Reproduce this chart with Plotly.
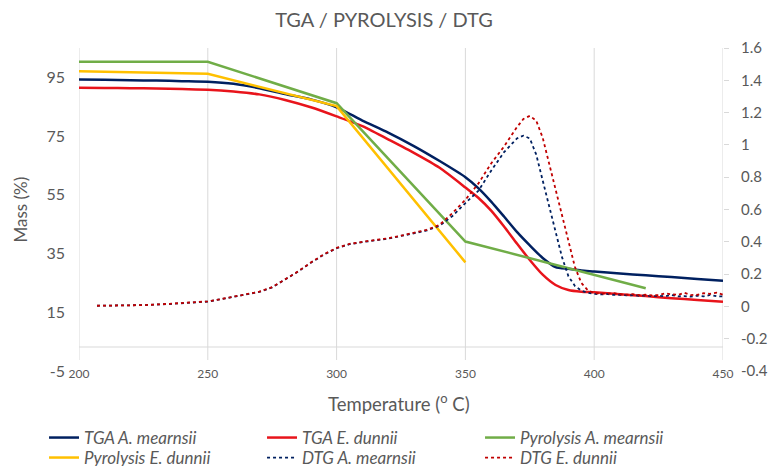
import plotly.graph_objects as go

# ---------------- data ----------------
temp_tga = [200, 210, 220, 230, 240, 250, 260, 270, 280, 290, 300, 310, 320, 330, 340,
            350, 355, 360, 365, 370, 375, 380, 385, 390, 395, 400, 410, 420, 430, 440, 450]
tga_mearnsii = [94.3, 94.2, 94.0, 93.9, 93.7, 93.5, 92.8, 91.3, 89.3, 87.5, 84.8, 80.3, 76.2, 71.6, 66.5,
                61.0, 57.3, 52.7, 47.6, 42.4, 37.8, 33.5, 30.4, 29.8, 29.2, 28.9, 28.2, 27.6, 27.0, 26.3, 25.7]
tga_dunnii = [91.5, 91.4, 91.3, 91.2, 91.0, 90.8, 90.2, 89.2, 87.3, 84.8, 81.7, 78.4, 73.9, 69.3, 64.2,
              57.5, 54.0, 49.6, 44.2, 38.4, 32.8, 27.8, 24.3, 22.6, 22.0, 21.8, 21.1, 20.5, 19.8, 19.2, 18.6]

temp_pyro_a = [200, 250, 300, 350, 420]
pyro_mearnsii = [100.3, 100.3, 86.2, 39.1, 23.2]
temp_pyro_e = [200, 250, 300, 350]
pyro_dunnii = [97.1, 96.2, 85.2, 32.0]

temp_dtg = [207, 215, 225, 235, 245, 250, 255, 260, 265, 270, 275, 280, 285, 290, 295, 300,
            305, 310, 315, 320, 325, 330, 335, 340, 345, 350, 355, 360, 365, 370, 372.5, 375,
            377.5, 380, 382.5, 385, 387.5, 390, 392.5, 395, 397.5, 400, 402.5, 405, 407.5, 410,
            412.5, 415, 417.5, 420, 422.5, 425, 427.5, 430, 432.5, 435, 437.5, 440, 442.5, 445,
            447.5, 450]
dtg_mearnsii = [0.004, 0.005, 0.008, 0.015, 0.024, 0.030, 0.044, 0.058, 0.072, 0.090, 0.118, 0.165,
                0.215, 0.270, 0.320, 0.360, 0.385, 0.398, 0.408, 0.420, 0.436, 0.452, 0.470, 0.500,
                0.560, 0.640, 0.715, 0.840, 0.955, 1.040, 1.057, 1.040, 0.940, 0.780, 0.620, 0.460,
                0.305, 0.186, 0.127, 0.097, 0.084, 0.078, 0.074, 0.077, 0.071, 0.072, 0.068, 0.070,
                0.066, 0.067, 0.063, 0.066, 0.062, 0.071, 0.062, 0.064, 0.060, 0.067, 0.062, 0.071,
                0.063, 0.062]
dtg_dunnii = [0.004, 0.006, 0.008, 0.016, 0.025, 0.031, 0.045, 0.059, 0.073, 0.091, 0.119, 0.166,
              0.216, 0.272, 0.322, 0.362, 0.387, 0.400, 0.410, 0.422, 0.438, 0.455, 0.474, 0.505,
              0.578, 0.660, 0.760, 0.885, 0.990, 1.110, 1.160, 1.180, 1.150, 1.045, 0.885, 0.715,
              0.550, 0.390, 0.245, 0.145, 0.100, 0.082, 0.080, 0.078, 0.083, 0.075, 0.072, 0.076,
              0.070, 0.072, 0.068, 0.070, 0.080, 0.074, 0.071, 0.084, 0.070, 0.072, 0.082, 0.078,
              0.085, 0.072]

x_ticks = [200, 250, 300, 350, 400, 450]
left_ticks = [-5, 15, 35, 55, 75, 95]
left_labels = ["-5", "15", "35", "55", "75", "95"]
right_ticks = [-0.4, -0.2, 0, 0.2, 0.4, 0.6, 0.8, 1, 1.2, 1.4, 1.6]
right_labels = ["-0.4", "-0.2", "0", "0.2", "0.4", "0.6", "0.8", "1", "1.2", "1.4", "1.6"]

# ---------------- style ----------------
NAVY = "#002060"
RED = "#E8141B"
DRED = "#C00000"
GREEN = "#70AD47"
YELLOW = "#FFC000"
TXT = "#595959"
GRID = "#D9D9D9"
FONT = "Lato"

fig = go.Figure()
fig.add_trace(go.Scatter(x=temp_tga, y=tga_mearnsii, name="TGA A. mearnsii", mode="lines",
                         legend="legend",
                         line=dict(color=NAVY, width=2.5, shape="spline", smoothing=0.6)))
fig.add_trace(go.Scatter(x=temp_tga, y=tga_dunnii, name="TGA E. dunnii", mode="lines",
                         legend="legend",
                         line=dict(color=RED, width=2.5, shape="spline", smoothing=0.6)))
fig.add_trace(go.Scatter(x=temp_pyro_a, y=pyro_mearnsii, name="Pyrolysis A. mearnsii", mode="lines",
                         legend="legend", line=dict(color=GREEN, width=2.5)))
fig.add_trace(go.Scatter(x=temp_pyro_e, y=pyro_dunnii, name="Pyrolysis E. dunnii", mode="lines",
                         legend="legend2", line=dict(color=YELLOW, width=2.5)))
fig.add_trace(go.Scatter(x=temp_dtg, y=dtg_mearnsii, name="DTG A. mearnsii", mode="lines", yaxis="y2",
                         legend="legend2", line=dict(color=NAVY, width=1.8, dash="dot")))
fig.add_trace(go.Scatter(x=temp_dtg, y=dtg_dunnii, name="DTG E. dunnii", mode="lines", yaxis="y2",
                         legend="legend2", line=dict(color=DRED, width=1.8, dash="dot")))

# gridlines / axis lines (not data marks)
shapes = []
for xv in x_ticks:
    shapes.append(dict(type="line", xref="x", yref="paper", x0=xv, x1=xv, y0=0.034, y1=1,
                       line=dict(color=GRID, width=1), layer="below"))
shapes.append(dict(type="line", xref="paper", yref="paper", x0=0, x1=1, y0=0.0743, y1=0.0743,
                   line=dict(color=GRID, width=1), layer="below"))

legend_common = dict(orientation="h", xanchor="left", yanchor="top",
                     entrywidth=173, entrywidthmode="pixels", traceorder="normal",
                     font=dict(size=17, color=TXT, family=FONT, style="italic"),
                     bgcolor="rgba(0,0,0,0)", itemwidth=30, tracegroupgap=0)

fig.update_layout(
    width=769, height=466,
    margin=dict(l=79, r=46, t=48, b=95, autoexpand=False),
    paper_bgcolor="white", plot_bgcolor="white",
    font=dict(family=FONT, color=TXT),
    title=dict(text="TGA / PYROLYSIS / DTG", x=384 / 769, xanchor="center", y=1 - 20 / 466,
               yanchor="middle", font=dict(size=20, color=TXT, family=FONT)),
    xaxis=dict(range=[200, 450], tickvals=x_ticks, showgrid=False, zeroline=False, showline=False,
               ticks="", tickfont=dict(size=12, color=TXT), ticklabelstandoff=-6),
    yaxis=dict(range=[-5, 105], tickvals=left_ticks, ticktext=left_labels, showgrid=False,
               zeroline=False, showline=False,
               ticks="", tickfont=dict(size=16, color=TXT), ticklabelstandoff=13),
    yaxis2=dict(range=[-0.4, 1.6], tickvals=right_ticks, ticktext=right_labels, overlaying="y",
                side="right", showgrid=False, zeroline=False, showline=False,
                ticks="outside", ticklen=5, tickcolor=GRID, tickfont=dict(size=15, color=TXT),
                ticklabelstandoff=9),
    shapes=shapes,
    showlegend=True,
    legend=dict(x=-0.0543, y=-0.1517, **legend_common),
    legend2=dict(x=-0.0543, y=-0.2136, **legend_common),
    annotations=[
        dict(text="Mass (%)", xref="paper", yref="paper", x=(20 - 79) / 644, y=0.5,
             xanchor="center", yanchor="middle", textangle=-90, showarrow=False,
             font=dict(size=17, color=TXT, family=FONT)),
        dict(text="Temperature (<sup>o</sup> C)", xref="paper", yref="paper", x=(399 - 79) / 644,
             y=(371 - 402) / 323, xanchor="center", yanchor="middle", showarrow=False,
             font=dict(size=18.5, color=TXT, family=FONT)),
    ],
)

fig.write_html("out.html", config={"displayModeBar": False},
               post_script="document.body.style.margin='0px';")
